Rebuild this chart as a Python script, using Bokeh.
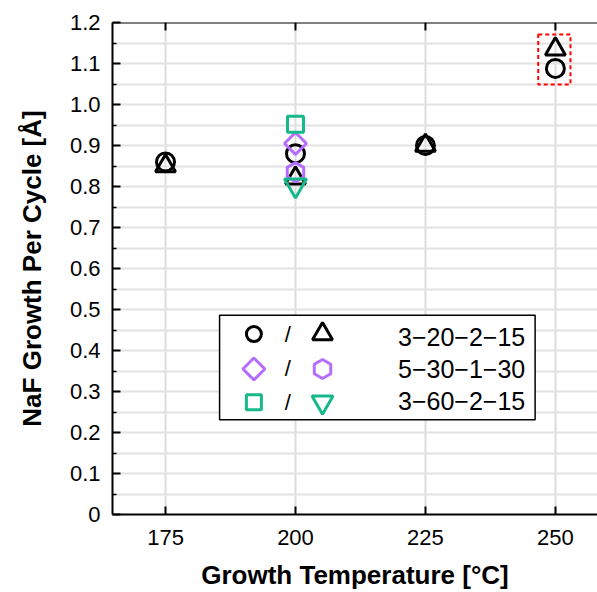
import numpy as np
from bokeh.plotting import figure
from bokeh.models import FixedTicker, PrintfTickFormatter, Span
from bokeh.core.properties import value
from bokeh.embed import file_html
from bokeh.resources import INLINE

# ---- data ----
temps_a = [175, 200, 225, 250]
circle_a = [0.86, 0.88, 0.90, 1.088]     # 3-20-2-15, open circle
triangle_a = [0.85, 0.82, 0.90, 1.135]   # 3-20-2-15, triangle
temps_b = [200]
diamond_b = [0.905]                      # 5-30-1-30, diamond
hexagon_b = [0.835]                      # 5-30-1-30, hexagon
temps_c = [200]
square_c = [0.952]                       # 3-60-2-15, square
invtri_c = [0.803]                       # 3-60-2-15, inverted triangle
legend_labels = ["3\u221220\u22122\u221215", "5\u221230\u22121\u221230", "3\u221260\u22122\u221215"]
x_ticks = [175, 200, 225, 250]
y_ticks = [round(0.1 * i, 1) for i in range(13)]
y_minor = [round(0.05 + 0.1 * i, 2) for i in range(12)]
Y_MAX = 1.2

BLACK = "#000000"
PURPLE = "#B56CFF"
GREEN = "#17B98A"
FONT = "Liberation Sans"

p = figure(width=597, height=592, x_range=(164.8, 258.1), y_range=(0, Y_MAX),
           output_backend="svg", toolbar_location=None,
           min_border_left=112, min_border_right=0, min_border_top=22, min_border_bottom=76,
           x_axis_label="Growth Temperature [°C]", y_axis_label="NaF Growth Per Cycle [Å]")
p.outline_line_color = None
p.background_fill_color = "white"

# axes
for ax in (p.xaxis[0], p.yaxis[0]):
    ax.axis_line_width = 2
    ax.major_tick_line_width = 2
    ax.minor_tick_line_width = 1.5
    ax.major_tick_in = 8
    ax.major_tick_out = 0
    ax.minor_tick_in = 4
    ax.minor_tick_out = 0
    ax.major_label_text_font = FONT
    ax.major_label_text_font_size = "22px"
    ax.major_label_text_color = "black"
    ax.axis_label_text_font = FONT
    ax.axis_label_text_font_style = "bold"
    ax.axis_label_text_font_size = "26px"
    ax.axis_label_text_color = "black"

p.xaxis.ticker = FixedTicker(ticks=x_ticks)
p.xaxis.minor_tick_line_color = None
p.xaxis.major_label_standoff = 15
p.xaxis.axis_label_standoff = 12
p.yaxis.ticker = FixedTicker(ticks=y_ticks, minor_ticks=y_minor)
p.yaxis.formatter = PrintfTickFormatter(format="%.1f")
p.yaxis.major_label_overrides = {0: "0"}
p.yaxis.major_label_standoff = 12
p.yaxis.axis_label_standoff = 20

# top frame line with inward ticks
p.add_layout(Span(location=Y_MAX, dimension="width", line_color=BLACK, line_width=2))
tick_len = 8 / 411.7 * Y_MAX / 1.2
p.segment(x0=x_ticks, y0=[Y_MAX] * len(x_ticks), x1=x_ticks, y1=[Y_MAX - tick_len] * len(x_ticks),
          line_color=BLACK, line_width=2)

# grid
p.xgrid.ticker = FixedTicker(ticks=x_ticks)
p.xgrid.grid_line_color = "#dcdcdc"
p.xgrid.grid_line_width = 2
p.ygrid.ticker = FixedTicker(ticks=y_ticks, minor_ticks=y_minor)
p.ygrid.grid_line_color = "#e2e2e2"
p.ygrid.grid_line_width = 2
p.ygrid.minor_grid_line_color = "#e2e2e2"
p.ygrid.minor_grid_line_width = 2

LW = 3
# data markers
p.scatter(temps_a, triangle_a, marker="triangle", size=20, fill_color=None, line_color=BLACK, line_width=LW)
p.scatter(temps_a, circle_a, marker="circle", size=18, fill_color=None, line_color=BLACK, line_width=LW)
p.scatter(temps_b, hexagon_b, marker="hex", size=19, angle=np.pi / 2, fill_color=None, line_color=PURPLE, line_width=LW)
p.scatter(temps_c, invtri_c, marker="inverted_triangle", size=22, fill_color=None, line_color=GREEN, line_width=LW)
p.scatter(temps_b, diamond_b, marker="square", size=15.5, angle=np.pi / 4, fill_color=None, line_color=PURPLE, line_width=LW)
p.scatter(temps_c, square_c, marker="square", size=16, fill_color=None, line_color=GREEN, line_width=LW)

# highlight box around 250 °C points
p.quad(left=246.7, right=252.9, bottom=1.049, top=1.171, fill_color=None,
       line_color="#ff0000", line_width=2, line_dash="4 3")

# legend (custom: two symbols per row)
p.quad(left=185.4, right=246.1, bottom=0.231, top=0.486, fill_color="white",
       line_color=BLACK, line_width=1.5)
rows_y = [0.44, 0.355, 0.274]
x_m1, x_sl, x_m2, x_lab = 192.0, 198.5, 205.2, 244.2
p.scatter([x_m1], [rows_y[0]], marker="circle", size=15, fill_color=None, line_color=BLACK, line_width=LW)
p.scatter([x_m2], [rows_y[0]], marker="triangle", size=20, fill_color=None, line_color=BLACK, line_width=LW)
p.scatter([x_m1], [rows_y[1]], marker="square", size=15.5, angle=np.pi / 4, fill_color=None, line_color=PURPLE, line_width=LW)
p.scatter([x_m2], [rows_y[1]], marker="hex", size=19, angle=np.pi / 2, fill_color=None, line_color=PURPLE, line_width=LW)
p.scatter([x_m1], [rows_y[2]], marker="square", size=15, fill_color=None, line_color=GREEN, line_width=LW)
p.scatter([x_m2], [rows_y[2]], marker="inverted_triangle", size=21, fill_color=None, line_color=GREEN, line_width=LW)
p.text(x=[x_sl] * 3, y=rows_y, text=["/"] * 3, text_align="center", text_baseline="middle",
       text_font=value(FONT), text_font_size=value("22px"), text_color="black")
p.text(x=[x_lab] * 3, y=[0.433, 0.355, 0.277], text=legend_labels, text_align="right",
       text_baseline="middle", text_font=value(FONT), text_font_size=value("25px"), text_color="black")

open("out.html", "w").write(file_html(p, INLINE))
